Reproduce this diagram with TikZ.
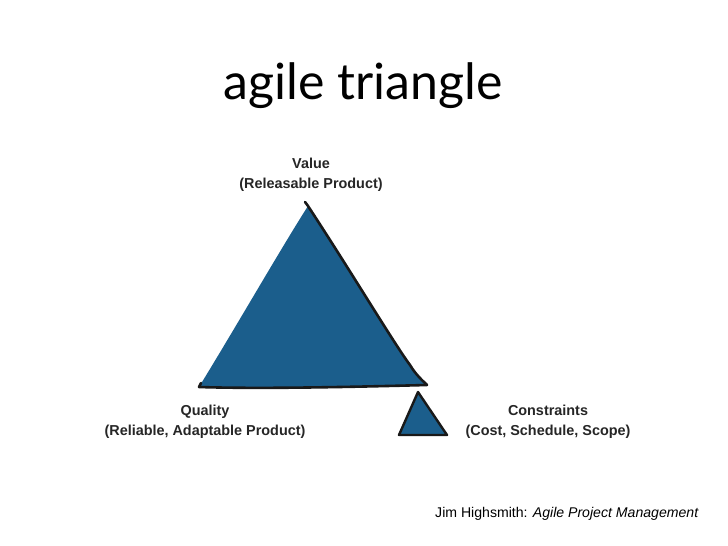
\documentclass[tikz,border=0pt]{standalone}
\usepackage{fontspec}
\setmainfont{Liberation Sans}
\newfontfamily\titlefont{Lato}
\definecolor{triblue}{HTML}{1B5E8C}
\begin{document}
\begin{tikzpicture}[x=1pt,y=-1pt,
  label/.style={font=\fontsize{14.4}{20}\selectfont\bfseries, align=center, text=black!85, inner sep=0pt},
  ink/.style={draw=black!90, line width=2.6pt, line cap=round, line join=round}]
\useasboundingbox (0,0) rectangle (728,546);
\fill[white] (0,0) rectangle (728,546);

% title
\node[inner sep=0pt, font=\titlefont\fontsize{50}{60}\selectfont] (title) at (363,86) {agile triangle};

% large triangle
\coordinate (qa) at (199,387);
\coordinate (va) at (308,206);
\coordinate (ca) at (427,385);
\fill[triblue] (qa) .. controls (240,320) and (280,250) .. (va)
  .. controls (350,270) and (395,345) .. (410,365)
  .. controls (416,375) and (422,380) .. (ca)
  .. controls (350,387) and (260,389) .. cycle;
\draw[ink] (305,202) -- (va) .. controls (350,270) and (395,345) .. (410,365)
  .. controls (416,375) and (422,380) .. (ca);
\draw[ink] (ca) .. controls (350,387) and (260,389) .. (qa) -- (201,383);

% small triangle
\coordinate (sa) at (418,392);
\coordinate (sl) at (399,435);
\coordinate (sr) at (447,435);
\fill[triblue] (sa) -- (sr) -- (sl) -- cycle;
\draw[ink, line width=2.4pt] (sl) -- (sa) -- (sr) -- cycle;

% labels
\node[label] (value) at (311,175) {Value\\(Releasable Product)};
\node[label] (quality) at (205,422) {Quality\\(Reliable, Adaptable Product)};
\node[label] (constraints) at (548,422) {Constraints\\(Cost, Schedule, Scope)};

% source
\node[anchor=base west, inner sep=0pt, font=\fontsize{14.1}{17}\selectfont] (src) at (435,517) {Jim Highsmith: \textit{Agile Project Management}};
\end{tikzpicture}
\end{document}
